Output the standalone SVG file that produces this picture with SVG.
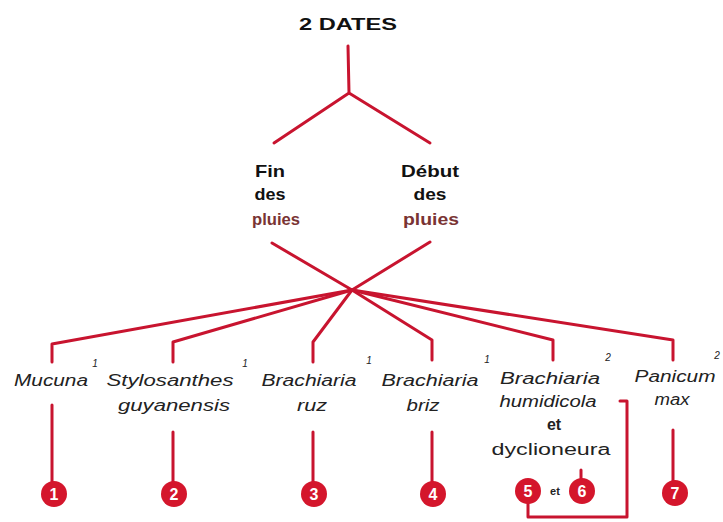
<svg xmlns="http://www.w3.org/2000/svg" width="723" height="522" viewBox="0 0 723 522">
  <style>
    .bg { fill: #ffffff; }
    .ln { fill: none; stroke: #c8142f; stroke-width: 3; stroke-linecap: round; stroke-linejoin: round; }
    .ttl { font-family: "Liberation Sans", "DejaVu Sans", sans-serif; font-weight: bold; font-size: 17px; fill: #111; text-anchor: middle; }
    .pl { fill: #7a3434; }
    .sp { font-family: "Liberation Sans", Arial, sans-serif; font-style: italic; font-size: 16px; fill: #222; text-anchor: middle; }
    .up { font-family: "Liberation Sans", Arial, sans-serif; font-size: 16px; fill: #222; text-anchor: middle; }
    .sup { font-family: "Liberation Sans", Arial, sans-serif; font-style: italic; font-size: 10px; fill: #222; text-anchor: middle; }
    .dot { fill: #d4162c; }
    .num { font-family: "Liberation Sans", Arial, sans-serif; font-weight: bold; font-size: 16px; fill: #fff; text-anchor: middle; }
    .et { font-family: "Liberation Sans", Arial, sans-serif; font-weight: bold; font-size: 11px; fill: #222; text-anchor: middle; }
  </style>
  <rect class="bg" x="0" y="0" width="723" height="522"/>

  <!-- connectors -->
  <g id="connectors">
    <path class="ln" d="M348 46 L349 93 M274 143 L349 93 L430 143"/>
    <path class="ln" d="M272 243 L352 290 M430 242 L352 290"/>
    <path class="ln" d="M352 290 L52 344 L52 362"/>
    <path class="ln" d="M352 290 L173 342 L173 362"/>
    <path class="ln" d="M352 290 L313 342 L313 362"/>
    <path class="ln" d="M352 290 L432 340 L432 360"/>
    <path class="ln" d="M352 290 L553 340 L553 360"/>
    <path class="ln" d="M352 290 L673 340 L673 360"/>
    <path class="ln" d="M52 405 L52 482"/>
    <path class="ln" d="M173 432 L173 482"/>
    <path class="ln" d="M313 432 L313 482"/>
    <path class="ln" d="M432 432 L432 482"/>
    <path class="ln" d="M673 430 L673 482"/>
    <path class="ln" d="M581 470 L581 478"/>
    <path class="ln" d="M620 401 L627 401 L627 517 L528 517 L528 503"/>
  </g>

  <g id="dates">
    <text class="ttl" x="348" y="30" textLength="98" lengthAdjust="spacingAndGlyphs">2 DATES</text>
  </g>

  <g id="fin-pluies">
    <text class="ttl" x="270" y="177" textLength="30" lengthAdjust="spacingAndGlyphs">Fin</text>
    <text class="ttl" x="270" y="200" textLength="31" lengthAdjust="spacingAndGlyphs">des</text>
    <text class="ttl pl" x="276" y="225" textLength="48" lengthAdjust="spacingAndGlyphs">pluies</text>
  </g>

  <g id="debut-pluies">
    <text class="ttl" x="430" y="177" textLength="58" lengthAdjust="spacingAndGlyphs">Début</text>
    <text class="ttl" x="430" y="200" textLength="33" lengthAdjust="spacingAndGlyphs">des</text>
    <text class="ttl pl" x="431" y="225" textLength="56" lengthAdjust="spacingAndGlyphs">pluies</text>
  </g>

  <g id="mucuna">
    <text class="sp" x="51" y="386" textLength="74" lengthAdjust="spacingAndGlyphs">Mucuna</text>
    <text class="sup" x="95" y="367">1</text>
    <circle class="dot" cx="54" cy="494" r="13"/>
    <text class="num" x="54" y="500">1</text>
  </g>

  <g id="stylosanthes">
    <text class="sp" x="170" y="386" textLength="127" lengthAdjust="spacingAndGlyphs">Stylosanthes</text>
    <text class="sp" x="174" y="411" textLength="112" lengthAdjust="spacingAndGlyphs">guyanensis</text>
    <text class="sup" x="245" y="367">1</text>
    <circle class="dot" cx="174" cy="494" r="13"/>
    <text class="num" x="174" y="500">2</text>
  </g>

  <g id="brachiaria-ruz">
    <text class="sp" x="309" y="386" textLength="95" lengthAdjust="spacingAndGlyphs">Brachiaria</text>
    <text class="sp" x="312" y="411" textLength="30" lengthAdjust="spacingAndGlyphs">ruz</text>
    <text class="sup" x="369" y="364">1</text>
    <circle class="dot" cx="314" cy="494" r="13"/>
    <text class="num" x="314" y="500">3</text>
  </g>

  <g id="brachiaria-briz">
    <text class="sp" x="430" y="386" textLength="97" lengthAdjust="spacingAndGlyphs">Brachiaria</text>
    <text class="sp" x="423" y="411" textLength="33" lengthAdjust="spacingAndGlyphs">briz</text>
    <text class="sup" x="487" y="363">1</text>
    <circle class="dot" cx="433" cy="494" r="13"/>
    <text class="num" x="433" y="500">4</text>
  </g>

  <g id="brachiaria-humidicola">
    <text class="sp" x="550" y="384" textLength="100" lengthAdjust="spacingAndGlyphs">Brachiaria</text>
    <text class="sp" x="548" y="407" textLength="97" lengthAdjust="spacingAndGlyphs">humidicola</text>
    <text class="up" x="554" y="430" font-weight="bold">et</text>
    <text class="up" x="551" y="455" textLength="119" lengthAdjust="spacingAndGlyphs">dyclioneura</text>
    <text class="sup" x="608" y="361">2</text>
    <circle class="dot" cx="528" cy="491" r="13"/>
    <text class="num" x="528" y="497">5</text>
    <text class="et" x="555" y="495">et</text>
    <circle class="dot" cx="582" cy="491" r="13"/>
    <text class="num" x="582" y="497">6</text>
  </g>

  <g id="panicum">
    <text class="sp" x="675" y="382" textLength="81" lengthAdjust="spacingAndGlyphs">Panicum</text>
    <text class="sp" x="672" y="405" textLength="35" lengthAdjust="spacingAndGlyphs">max</text>
    <text class="sup" x="717" y="359">2</text>
    <circle class="dot" cx="675" cy="493" r="13"/>
    <text class="num" x="675" y="499">7</text>
  </g>
</svg>
